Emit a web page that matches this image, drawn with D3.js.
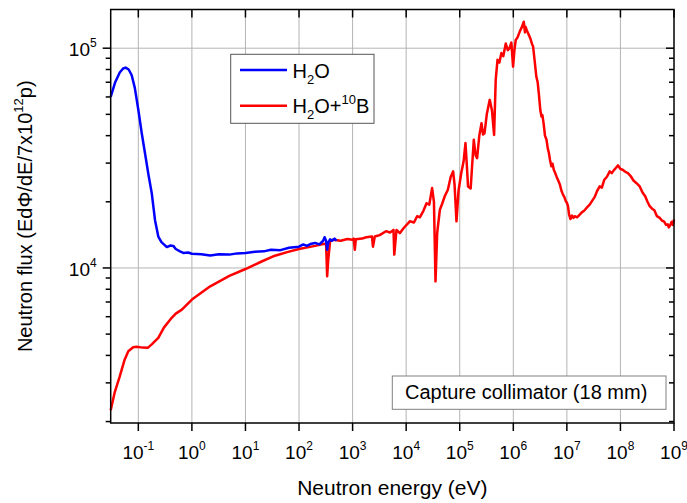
<!DOCTYPE html>
<html lang="en">
<head>
    <meta charset="UTF-8">
    <title>Neutron flux - capture collimator</title>
    <script src="https://d3js.org/d3.v7.min.js"></script>
    <style>
        body { margin: 0; background: #fff; }
        svg { display: block; font-family: "Liberation Sans", Arial, sans-serif; }
    </style>
</head>
<body>
    <script>
        /* data: energy (eV) and flux */
        let h2oEnergy = [0.0305, 0.037, 0.045, 0.052, 0.058, 0.066, 0.075, 0.086, 0.1, 0.115, 0.13, 0.155, 0.178, 0.205, 0.236, 0.27,
                         0.3, 0.34, 0.4, 0.45, 0.5, 0.6, 0.69, 0.85, 1, 1.5, 2.2, 3.2, 5, 7, 10, 15, 22, 30, 45, 65, 100, 120, 140, 170,
                         200, 240, 282, 300, 320, 335, 350, 380, 410, 460, 500];
        let h2oFlux = [60000, 70000, 77500, 80800, 81600, 80000, 75500, 66000, 52500, 41500, 34500, 26500, 21900, 16500, 13900, 13100,
                       12800, 12450, 12650, 12600, 12200, 11900, 11700, 11750, 11600, 11550, 11400, 11550, 11500, 11650, 11700, 11850, 11900, 12100, 12050, 12350, 12500, 12800, 12600, 12900,
                       13000, 12800, 13300, 13800, 13300, 12100, 13000, 13500, 13300, 13600, 13300];

        let boronEnergy = [0.0305, 0.036, 0.045, 0.055, 0.065, 0.08, 0.093, 0.12, 0.15, 0.18, 0.236, 0.3, 0.42, 0.5, 0.65, 1,
                           2.2, 5, 10, 20, 33, 60, 100, 200, 282, 320, 335, 350, 380, 436, 600, 800, 1000, 1050, 1100, 1150,
                           1500, 1800, 2300, 2400, 2600, 3200, 4200, 5000, 5800, 6000, 6600, 7600, 9000, 11700, 14000, 16000, 18000, 21000, 24000,
                           27000, 30500, 33000, 35300, 38000, 42600, 47000, 52500, 60000, 68000, 75300, 80000, 87000, 95000, 107000, 118000,
                           128000, 135000, 143000, 160000, 183000, 198000, 211000, 232000, 255000, 272000, 290000, 320000, 363000, 400000,
                           438000, 470000, 507000, 550000, 600000, 650000, 724000, 790000, 850000, 920000, 990000, 1050000, 1110000,
                           1200000, 1320000, 1450000, 1570000, 1650000, 1700000, 1800000, 1890000,
                           2100000, 2250000, 2340000, 2500000, 2690000, 2850000, 3000000, 3200000, 3360000, 3500000, 3700000, 3900000,
                           4170000, 4400000, 4600000, 4850000, 5130000, 5400000, 5700000, 6000000, 6400000, 6900000, 7400000, 7900000,
                           8500000, 9000000, 9500000, 10000000, 10500000, 11000000, 11700000, 12500000, 13300000, 14000000, 15500000,
                           17400000, 19000000, 21000000, 23500000, 26700000, 30000000, 33000000, 37000000, 41000000, 45000000, 50000000,
                           56000000, 63100000, 69000000, 75000000, 82000000, 90200000, 100000000, 110000000, 123000000, 138000000,
                           155000000, 175000000, 200000000, 229000000, 260000000, 290000000, 320000000, 352000000, 390000000, 430000000,
                           480000000, 541000000, 600000000, 650000000, 710000000, 760000000, 800000000, 832000000, 900000000, 950000000, 1000000000];
        let boronFlux = [2250, 2700, 3210, 3800, 4180, 4360, 4375, 4340, 4330, 4500, 4810, 5350, 5930, 6200, 6460, 7180,
                         8250, 9200, 9890, 10700, 11300, 11800, 12200, 12600, 12850, 12900, 9160, 10800, 13200, 13450, 13300, 13550, 13450, 13600, 12100, 13500,
                         13600, 13800, 13900, 12500, 13900, 14100, 14700, 14500, 14900, 11500, 14900, 14400, 15200, 16300, 16100, 17200, 17000, 18200, 19700,
                         19400, 23100, 20000, 8690, 14500, 18400, 19600, 21200, 22700, 26000, 27500, 24000, 16300, 22500, 27100, 30500,
                         37000, 30000, 23500, 23000, 38300, 32500, 31600, 40000, 45600, 40500, 41000, 50000, 58200, 52000,
                         40300, 72000, 88500, 86000, 95000, 92000, 105000, 98000, 100000, 106000, 82400, 98000, 109000,
                         112000, 119000, 125000, 132000, 118000, 125000, 120000, 117000,
                         110000, 104000, 102000, 88000, 74300, 70000, 62000, 52000, 48900, 49500, 45000, 40000,
                         38300, 35000, 33500, 31000, 29000, 29800, 28000, 27200, 26100, 25000, 24000, 22500,
                         21500, 21000, 20200, 19800, 19100, 17500, 16700, 17300, 16900, 17200, 17000,
                         17500, 17900, 18200, 18800, 19400, 20300, 21000, 22500, 23500, 23200, 25200,
                         26000, 27500, 27000, 27800, 28500, 29300, 28200, 28000, 27400, 27000,
                         26200, 25000, 24300, 23500, 22000, 21200, 20000, 19100, 18600, 18300,
                         17200, 16900, 16400, 16300, 15700, 15800, 15300, 15500, 16200, 15700, 16600];

        let xTickValues = [1e-1, 1e0, 1e1, 1e2, 1e3, 1e4, 1e5, 1e6, 1e7, 1e8, 1e9];
        let xTickExps = ["-1", "0", "1", "2", "3", "4", "5", "6", "7", "8", "9"];
        let yTickValues = [1e4, 1e5];
        let yTickExps = ["4", "5"];

        let width = 687,
            height = 503;
        let margin = { top: 9.5, right: 13, bottom: 80, left: 110.7 };
        let innerW = width - margin.left - margin.right,
            innerH = height - margin.top - margin.bottom;

        let svg = d3.select("body")
                    .append("svg")
                    .attr("width", width)
                    .attr("height", height);

        let x = d3.scaleLog().domain([0.0305, 1e9]).range([0, innerW]);
        let y = d3.scaleLog().domain([1970, 1.5e5]).range([innerH, 0]);

        let g = svg.append("g").attr("transform", `translate(${margin.left}, ${margin.top})`);

        /* grid lines at the decades */
        g.selectAll(".vgrid")
         .data(xTickValues.filter(d => d < 1e9))
         .enter()
         .append("line")
         .attr("x1", d => x(d)).attr("x2", d => x(d))
         .attr("y1", 0).attr("y2", innerH)
         .attr("stroke", "#b4b4b4")
         .attr("stroke-width", 1);
        g.selectAll(".hgrid")
         .data(yTickValues)
         .enter()
         .append("line")
         .attr("x1", 0).attr("x2", innerW)
         .attr("y1", d => y(d)).attr("y2", d => y(d))
         .attr("stroke", "#b4b4b4")
         .attr("stroke-width", 1);

        /* curves */
        let line = d3.line()
                     .x(d => x(d[0]))
                     .y(d => y(d[1]));
        g.append("path")
         .datum(d3.zip(boronEnergy, boronFlux))
         .attr("fill", "none")
         .attr("stroke", "#ff0000")
         .attr("stroke-width", 2.5)
         .attr("stroke-linejoin", "round")
         .attr("d", line);
        g.append("path")
         .datum(d3.zip(h2oEnergy, h2oFlux))
         .attr("fill", "none")
         .attr("stroke", "#0000ff")
         .attr("stroke-width", 2.5)
         .attr("stroke-linejoin", "round")
         .attr("d", line);

        /* axes: bottom/left ticks outward, top/right mirrored inward */
        let isMajor = d => Math.abs(Math.log10(d) - Math.round(Math.log10(d))) < 1e-6;
        let xTicks = x.ticks(),
            yTicks = y.ticks();

        function tickLines(data, horizontal, pos, dir) {
            g.append("g")
             .selectAll("line")
             .data(data)
             .enter()
             .append("line")
             .attr("x1", d => horizontal ? x(d) : pos)
             .attr("x2", d => horizontal ? x(d) : pos + dir * (isMajor(d) ? 8 : 5))
             .attr("y1", d => horizontal ? pos : y(d))
             .attr("y2", d => horizontal ? pos + dir * (isMajor(d) ? 8 : 5) : y(d))
             .attr("stroke", "#000")
             .attr("stroke-width", 1.5);
        }
        tickLines(xTicks, true, innerH, 1);
        tickLines(xTicks, true, 0, 1);
        tickLines(yTicks, false, 0, -1);
        tickLines(yTicks, false, innerW, -1);

        g.append("rect")
         .attr("width", innerW)
         .attr("height", innerH)
         .attr("fill", "none")
         .attr("stroke", "#000")
         .attr("stroke-width", 1.5);

        /* tick labels with superscript exponent */
        let xl = g.selectAll(".xlab")
                  .data(xTickValues)
                  .enter()
                  .append("text")
                  .attr("x", d => x(d))
                  .attr("y", innerH + 36)
                  .attr("text-anchor", "middle")
                  .attr("font-size", 19);
        xl.append("tspan").text("10");
        xl.append("tspan").attr("dy", -9).attr("font-size", 12).text((d, i) => xTickExps[i]);

        let yl = g.selectAll(".ylab")
                  .data(yTickValues)
                  .enter()
                  .append("text")
                  .attr("x", -14)
                  .attr("y", d => y(d) + 8)
                  .attr("text-anchor", "end")
                  .attr("font-size", 19);
        yl.append("tspan").text("10");
        yl.append("tspan").attr("dy", -9).attr("font-size", 12).text((d, i) => yTickExps[i]);

        /* axis titles */
        svg.append("text")
           .attr("x", margin.left + innerW / 2)
           .attr("y", 495)
           .attr("text-anchor", "middle")
           .attr("font-size", 21)
           .text("Neutron energy (eV)");

        let yt = svg.append("text")
                    .attr("transform", `translate(32, ${margin.top + innerH / 2}) rotate(-90)`)
                    .attr("text-anchor", "middle")
                    .attr("font-size", 20);
        yt.append("tspan").text("Neutron flux (Ed\u03A6/dE/7x10");
        yt.append("tspan").attr("dy", -9).attr("font-size", 13).text("12");
        yt.append("tspan").attr("dy", 9).text("p)");

        /* legend */
        let lg = svg.append("g");
        lg.append("rect")
          .attr("x", 230.7).attr("y", 54.3)
          .attr("width", 143.3).attr("height", 69)
          .attr("fill", "#fff")
          .attr("stroke", "#555")
          .attr("stroke-width", 1);
        lg.append("line").attr("x1", 240).attr("x2", 287).attr("y1", 70).attr("y2", 70)
          .attr("stroke", "#0000ff").attr("stroke-width", 2.5);
        lg.append("line").attr("x1", 240).attr("x2", 287).attr("y1", 105.7).attr("y2", 105.7)
          .attr("stroke", "#ff0000").attr("stroke-width", 2.5);

        let t1 = lg.append("text").attr("x", 292.5).attr("y", 77.5).attr("font-size", 20);
        t1.append("tspan").text("H");
        t1.append("tspan").attr("dy", 6).attr("font-size", 13).text("2");
        t1.append("tspan").attr("dy", -6).text("O");

        let t2 = lg.append("text").attr("x", 292.5).attr("y", 113.3).attr("font-size", 20);
        t2.append("tspan").text("H");
        t2.append("tspan").attr("dy", 6).attr("font-size", 13).text("2");
        t2.append("tspan").attr("dy", -6).text("O+");
        t2.append("tspan").attr("dy", -9).attr("font-size", 13).text("10");
        t2.append("tspan").attr("dy", 9).text("B");

        /* annotation box */
        svg.append("rect")
           .attr("x", 392.3).attr("y", 376)
           .attr("width", 273.7).attr("height", 33.3)
           .attr("fill", "#fff")
           .attr("stroke", "#808080")
           .attr("stroke-width", 1);
        svg.append("text")
           .attr("x", 405).attr("y", 399.3)
           .attr("font-size", 20)
           .text("Capture collimator (18 mm)");
    </script>
</body>
</html>
